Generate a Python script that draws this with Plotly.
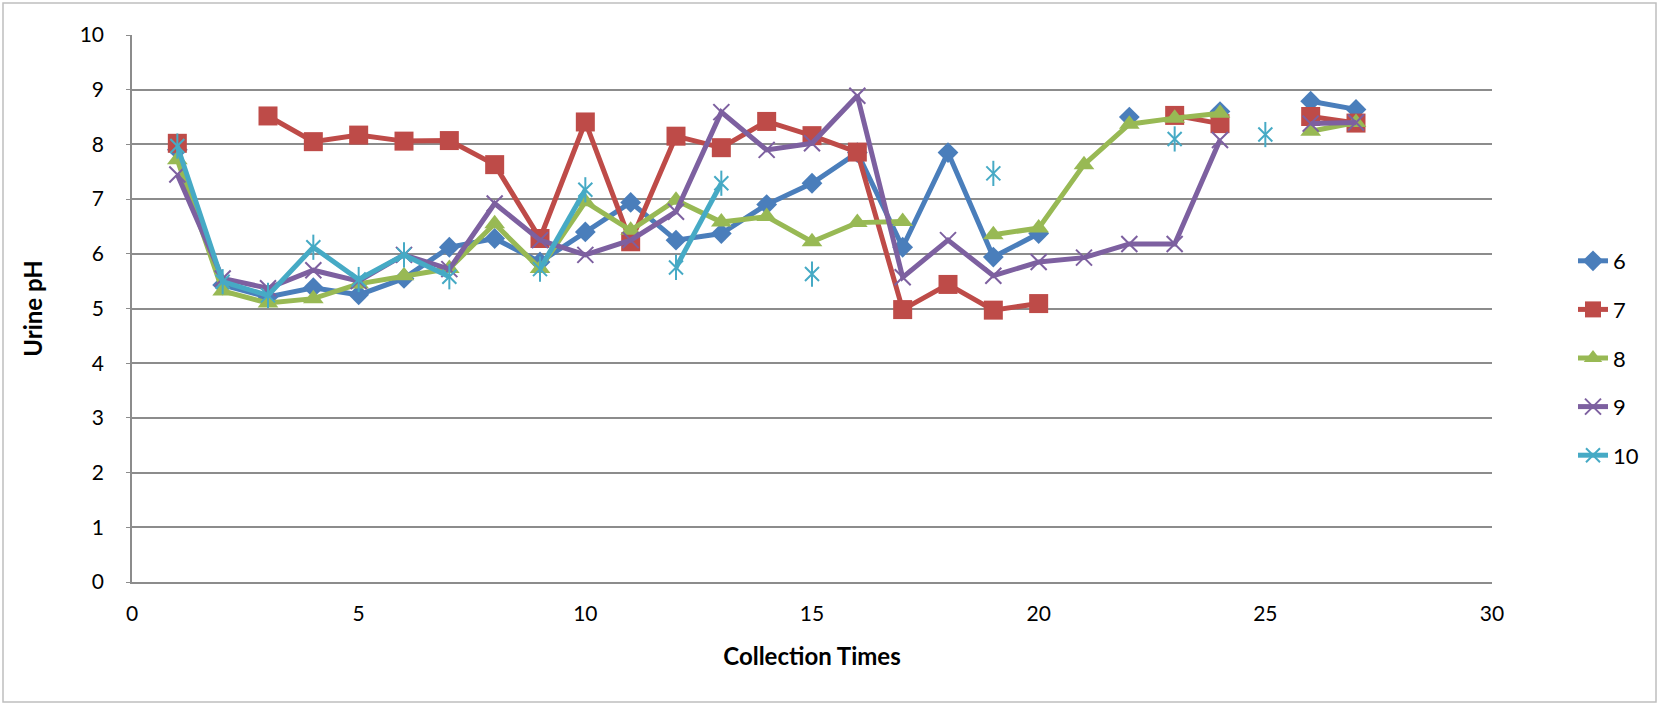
import plotly.graph_objects as go

# ---------------- data ----------------
collection_times = list(range(1, 28))

ph_6 = [7.90, 5.43, 5.21, 5.38, 5.25, 5.55, 6.12, 6.28, 5.85, 6.40, 6.94, 6.25, 6.37, 6.90,
        7.29, 7.85, 6.12, 7.85, 5.94, 6.37, None, 8.50, None, 8.60, None, 8.79, 8.64]
ph_7 = [8.02, None, 8.52, 8.05, 8.17, 8.06, 8.07, 7.63, 6.28, 8.41, 6.22, 8.15, 7.94, 8.42,
        8.16, 7.86, 4.98, 5.44, 4.97, 5.09, None, None, 8.53, 8.38, None, 8.51, 8.39]
ph_8 = [7.72, 5.32, 5.10, 5.18, 5.45, 5.60, 5.73, 6.55, 5.73, 6.95, 6.43, 6.98, 6.58, 6.68,
        6.22, 6.57, 6.59, None, 6.35, 6.47, 7.63, 8.37, 8.48, 8.57, None, 8.24, 8.40]
ph_9 = [7.45, 5.55, 5.37, 5.70, 5.50, 5.98, 5.72, 6.92, 6.25, 5.98, 6.25, 6.77, 8.59, 7.90,
        8.02, 8.89, 5.57, 6.25, 5.60, 5.85, 5.93, 6.18, 6.18, 8.08, None, 8.38, 8.40]
ph_10 = [7.97, 5.49, 5.24, 6.12, 5.53, 5.98, 5.58, None, 5.72, 7.17, None, 5.75, 7.29, None,
         5.63, None, None, None, 7.47, None, None, None, 8.10, None, 8.18, None, None]

series_names = ["6", "7", "8", "9", "10"]
series_values = [ph_6, ph_7, ph_8, ph_9, ph_10]
series_colors = ["#4A7EBB", "#BE4B48", "#98B954", "#7D60A0", "#46AAC5"]

x_ticks = [0, 5, 10, 15, 20, 25, 30]
y_ticks = list(range(0, 11))

# ---------------- layout constants ----------------
W, H = 1659, 705
L, R, T, B = 132, 1492, 35, 582   # plot area in pixels
FONT = "Lato, 'Open Sans', sans-serif"
GRID = "#8C8C8C"


def px_to_paper_x(px):
    return (px - L) / (R - L)


def px_to_paper_y(py):
    return (B - py) / (B - T)


fig = go.Figure()

marker_styles = [
    dict(symbol="diamond", size=16, line=dict(width=0)),
    dict(symbol="square", size=19, line=dict(width=0)),
    dict(symbol="triangle-up", size=18, line=dict(width=0)),
    dict(symbol="x-thin-open", size=16, line=dict(width=2)),
    dict(symbol="x-thin-open", size=14, line=dict(width=2)),
]

for name, vals, color, ms in zip(series_names, series_values, series_colors, marker_styles):
    m = dict(ms)
    m["color"] = color
    m["line"] = dict(m["line"], color=color)
    fig.add_trace(go.Scatter(
        x=collection_times, y=vals, name=name, mode="lines+markers",
        line=dict(color=color, width=5), marker=m,
        legendgroup=name, connectgaps=False,
    ))
    if name == "10":
        # vertical stroke to complete the asterisk-style marker
        fig.add_trace(go.Scatter(
            x=collection_times, y=vals, name=name, mode="markers",
            marker=dict(symbol="line-ns-open", size=18, color=color,
                        line=dict(width=2, color=color)),
            legendgroup=name, showlegend=False, hoverinfo="skip",
        ))

fig.update_layout(
    width=W, height=H,
    margin=dict(l=L, r=W - R, t=T, b=H - B),
    paper_bgcolor="white", plot_bgcolor="white",
    font=dict(family=FONT, size=21, color="#000000"),
    showlegend=True,
    legend=dict(
        x=px_to_paper_x(1573), xanchor="left",
        y=px_to_paper_y(240), yanchor="top",
        font=dict(family=FONT, size=22),
        tracegroupgap=17, bgcolor="rgba(0,0,0,0)",
    ),
    xaxis=dict(
        range=[0, 30], tickvals=x_ticks, showgrid=False, zeroline=False,
        showline=True, linecolor=GRID, linewidth=1.5,
        ticks="", ticklabelstandoff=12,
        tickfont=dict(family=FONT, size=21),
        title=dict(text="<b>Collection Times</b>", font=dict(family=FONT, size=24), standoff=24),
    ),
    yaxis=dict(
        range=[0, 10], tickvals=y_ticks, showgrid=True, gridcolor=GRID, gridwidth=1.5,
        zeroline=False, showline=True, linecolor=GRID, linewidth=1.5,
        ticks="outside", ticklen=4, tickcolor=GRID, ticklabelstandoff=18,
        tickfont=dict(family=FONT, size=21),
        title=dict(text="<b>Urine pH</b>", font=dict(family=FONT, size=24), standoff=30),
    ),
    shapes=[dict(
        type="rect", xref="paper", yref="paper", layer="below",
        x0=px_to_paper_x(3), x1=px_to_paper_x(1656),
        y0=px_to_paper_y(702), y1=px_to_paper_y(3),
        line=dict(color="#BFBFBF", width=1.5),
    )],
)

fig.write_html("out.html")
